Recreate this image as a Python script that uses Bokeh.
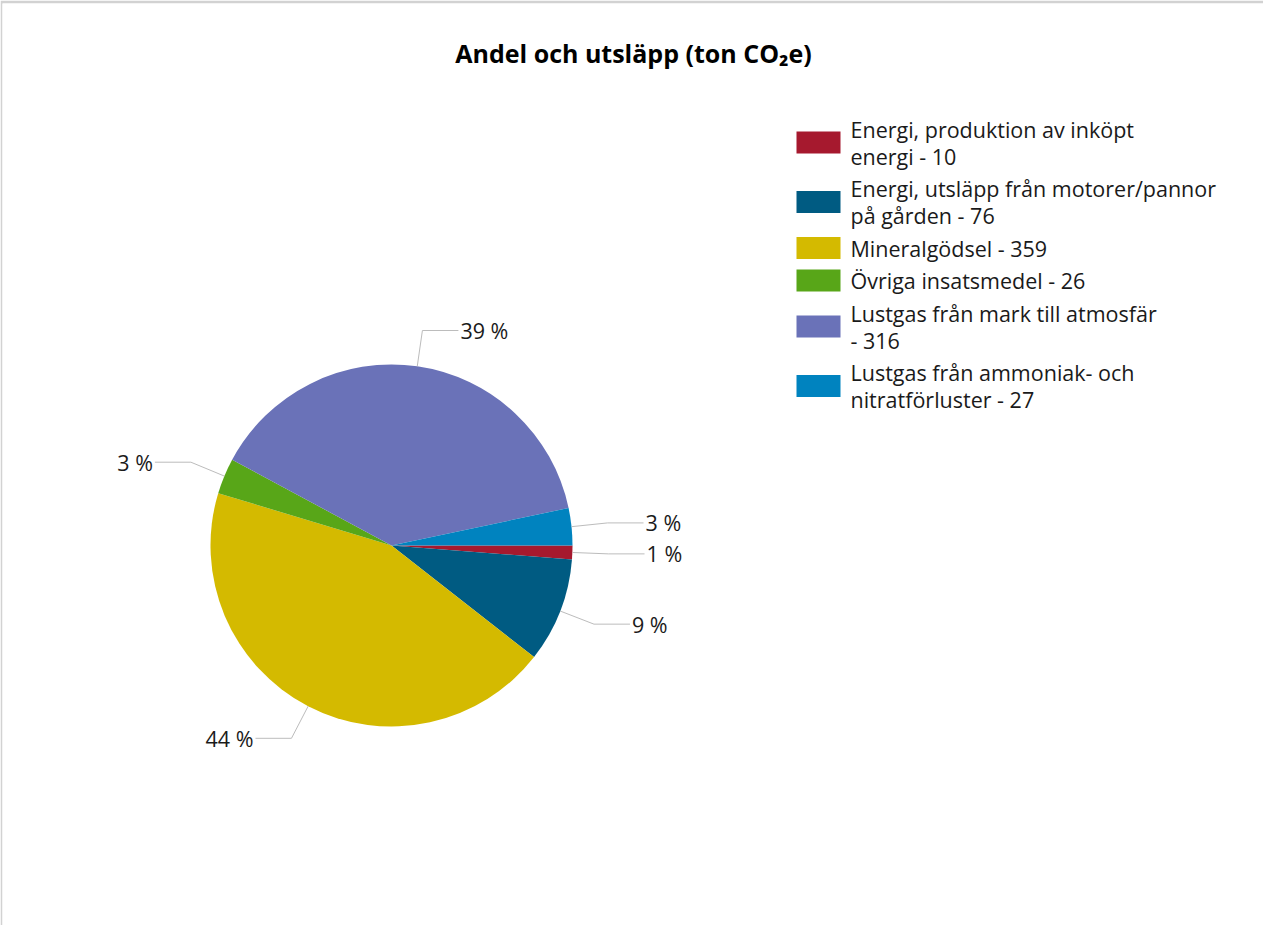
import numpy as np
from bokeh.plotting import figure
from bokeh.models import Range1d, ColumnDataSource
from bokeh.core.properties import value
from bokeh.embed import file_html
from bokeh.resources import INLINE

# ---------------- data ----------------
title_text = "Andel och utsläpp (ton CO₂e)"
categories = [
    "Energi, produktion av inköpt energi",
    "Energi, utsläpp från motorer/pannor på gården",
    "Mineralgödsel",
    "Övriga insatsmedel",
    "Lustgas från mark till atmosfär",
    "Lustgas från ammoniak- och nitratförluster",
]
values = [10, 76, 359, 26, 316, 27]
colors = ["#A6192E", "#005B82", "#D4BA00", "#58A618", "#6A72B8", "#0083BF"]
# number of words on the first legend line (None = single line)
legend_wrap = [4, 4, None, None, 5, 4]

# ---------------- layout ----------------
FONT = "Open Sans"
W, H = 1263, 925
BL, BT = 2, 3                       # grey frame border (left / top)
FX0, FY1 = 8 + BL, 8 + H            # screen x of frame left, screen y of frame bottom
FW, FH = W - BL, H - BT


def dx(sx):
    return sx - FX0


def dy(sy):
    return FY1 - sy


p = figure(width=W, height=H, output_backend="svg", toolbar_location=None,
           x_axis_type=None, y_axis_type=None,
           x_range=Range1d(0, FW), y_range=Range1d(0, FH))
p.min_border = 0
p.min_border_left = BL
p.min_border_top = BT
p.border_fill_color = "#d2d2d2"
p.background_fill_color = "white"
p.outline_line_color = None
p.xgrid.visible = False
p.ygrid.visible = False

# ---------------- pie ----------------
cx, cy, r = dx(399), dy(553), 181
vals = np.array(values, dtype=float)
total = vals.sum()
cum = np.concatenate([[0], np.cumsum(vals)]) / total * 2 * np.pi
starts = -cum[:-1]
ends = -cum[1:]
src = ColumnDataSource(dict(start=starts, end=ends, color=colors, cat=categories, val=values))
p.wedge(x=cx, y=cy, radius=r, start_angle="start", end_angle="end",
        direction="clock", fill_color="color", line_color=None, source=src)

# ---------------- leader lines and labels ----------------
mids = (starts + ends) / 2
pct = [f"{int(round(v / total * 100))} %" for v in values]
lx, ly, tx, ty, ta = [], [], [], [], []
for m, lab in zip(mids, pct):
    x0, y0 = cx + r * np.cos(m), cy + r * np.sin(m)
    x1, y1 = cx + 1.2 * r * np.cos(m), cy + 1.2 * r * np.sin(m)
    side = 1 if np.cos(m) >= 0 else -1
    x2 = x1 + side * 36
    lx.append([x0, x1, x2])
    ly.append([y0, y1, y1])
    tx.append(x2 + side * 2)
    ty.append(y1)
    ta.append("left" if side > 0 else "right")
p.multi_line(xs=lx, ys=ly, line_color="#bcbcbc", line_width=1)
p.text(x=tx, y=ty, text=pct, text_align=ta, text_baseline="middle",
       text_font=value(FONT), text_font_size="21.5px", text_color="#1a1a1a")

# ---------------- title ----------------
p.text(x=[dx(641)], y=[dy(60)], text=[title_text], text_align="center",
       text_baseline="middle", text_font=value(FONT), text_font_size="25px",
       text_font_style="bold", text_color="#000000")

# ---------------- legend ----------------
line_h, pad = 27, 5.5
top = dy(120.25)
sw_x, sw_w, sw_h = dx(826), 44, 22
txt_x = dx(858)
rx, ry, rc = [], [], []
ltx, lty, ltt = [], [], []
for cat, v, c, wr in zip(categories, values, colors, legend_wrap):
    words = f"{cat} - {v}".split(" ")
    lines = [" ".join(words)] if wr is None else [" ".join(words[:wr]), " ".join(words[wr:])]
    h = len(lines) * line_h + pad
    center = top - h / 2
    rx.append(sw_x); ry.append(center); rc.append(c)
    for i, ln in enumerate(lines):
        ltx.append(txt_x)
        lty.append(center + (len(lines) - 1) * line_h / 2 - i * line_h)
        ltt.append(ln)
    top -= h
p.rect(x=rx, y=ry, width=sw_w, height=sw_h, fill_color=rc, line_color=None)
p.text(x=ltx, y=lty, text=ltt, text_align="left", text_baseline="middle",
       text_font=value(FONT), text_font_size="21.5px", text_color="#1a1a1a")

open("out.html", "w").write(file_html(p, INLINE))
